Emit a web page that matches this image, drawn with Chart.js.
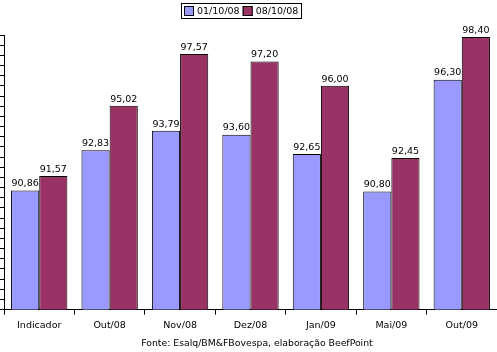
<!DOCTYPE html>
<html lang="pt">
<head>
    <meta charset="UTF-8">
    <script src="https://cdn.jsdelivr.net/npm/chart.js"></script>
    <title>chart</title>
    <style>
        body{ margin:0; background:#fff; }
        #chart_area{ width:497px; height:352px; }
    </style>
</head>
<body>
    <div id="chart_area">
        <canvas id="mychart" width="497" height="352"></canvas>
    </div>
    <script>
        let labels = ["Indicador","Out/08","Nov/08","Dez/08","Jan/09","Mai/09","Out/09"];
        let serie1 = [90.86, 92.83, 93.79, 93.60, 92.65, 90.80, 96.30];
        let serie2 = [91.57, 95.02, 97.57, 97.20, 96.00, 92.45, 98.40];
        let seriesNames = ["01/10/08","08/10/08"];
        let fonte = "Fonte: Esalq/BM&FBovespa, elaboração BeefPoint";
        let yMin = 85, yMax = 98.5, yStep = 0.5;

        const FONT = "'DejaVu Sans', Verdana, sans-serif";

        // valores em cima das barras
        const valueLabels = {
            id: "valueLabels",
            afterDatasetsDraw(chart){
                const ctx = chart.ctx;
                ctx.save();
                ctx.font = "9.5px " + FONT;
                ctx.fillStyle = "#000";
                ctx.textAlign = "center";
                ctx.textBaseline = "bottom";
                chart.data.datasets.forEach((ds, i)=>{
                    chart.getDatasetMeta(i).data.forEach((bar, j)=>{
                        let txt = ds.data[j].toFixed(2).replace(".", ",");
                        ctx.fillText(txt, bar.x, bar.y - 2);
                    });
                });
                ctx.restore();
            }
        };

        // legenda com moldura + fonte no rodape
        const legendBox = {
            id: "legendBox",
            afterDraw(chart){
                const ctx = chart.ctx;
                ctx.save();
                ctx.font = "9.5px " + FONT;
                ctx.textBaseline = "middle";
                ctx.textAlign = "left";
                let widths = chart.data.datasets.map(ds=>ctx.measureText(ds.label).width);
                let total = 3;
                widths.forEach(w=>{ total += 10 + 3 + w + 3; });
                let cx = 241.5;
                let left = Math.round(cx - total/2);
                let top = 3, h = 15;
                ctx.strokeStyle = "#000";
                ctx.lineWidth = 1;
                ctx.strokeRect(left + 0.5, top + 0.5, Math.round(total), h);
                let x = left + 3;
                chart.data.datasets.forEach((ds, i)=>{
                    ctx.fillStyle = ds.backgroundColor;
                    ctx.fillRect(x, top + 3, 10, 10);
                    ctx.strokeRect(x + 0.5, top + 3.5, 9, 9);
                    ctx.fillStyle = "#000";
                    ctx.fillText(ds.label, x + 13, top + 8.5);
                    x += 10 + 3 + widths[i] + 3;
                });
                // fonte
                ctx.font = "9.3px " + FONT;
                ctx.textAlign = "center";
                ctx.fillText(fonte, 257, 344);
                ctx.restore();
            }
        };

        let config = {
            type: "bar",
            data: {
                labels: labels,
                datasets: [
                    {
                        label: seriesNames[0],
                        data: serie1,
                        backgroundColor: "#9999FF",
                        borderColor: "#000",
                        borderWidth: 1,
                        borderSkipped: "bottom"
                    },
                    {
                        label: seriesNames[1],
                        data: serie2,
                        backgroundColor: "#993366",
                        borderColor: "#000",
                        borderWidth: 1,
                        borderSkipped: "bottom"
                    }
                ]
            },
            options: {
                responsive: false,
                animation: false,
                devicePixelRatio: 1,
                layout: { padding: { left: 0, right: 0, top: 35, bottom: 16 } },
                datasets: { bar: { categoryPercentage: 0.8, barPercentage: 1.0 } },
                scales: {
                    x: {
                        grid: { offset: true, drawOnChartArea: false, drawTicks: true, tickLength: 5, color: "#000" },
                        border: { color: "#000", width: 1 },
                        ticks: { color: "#000", font: { family: FONT, size: 9.5 }, padding: 5, maxRotation: 0 }
                    },
                    y: {
                        min: yMin,
                        max: yMax,
                        grid: { drawOnChartArea: false, drawTicks: true, tickLength: 4, color: "#000" },
                        border: { color: "#000", width: 1 },
                        ticks: { display: false, stepSize: yStep }
                    }
                },
                plugins: {
                    legend: { display: false },
                    title: { display: false },
                    tooltip: { enabled: false }
                }
            },
            plugins: [valueLabels, legendBox]
        };

        let chart = new Chart(document.querySelector("#mychart"), config);
    </script>
</body>
</html>
